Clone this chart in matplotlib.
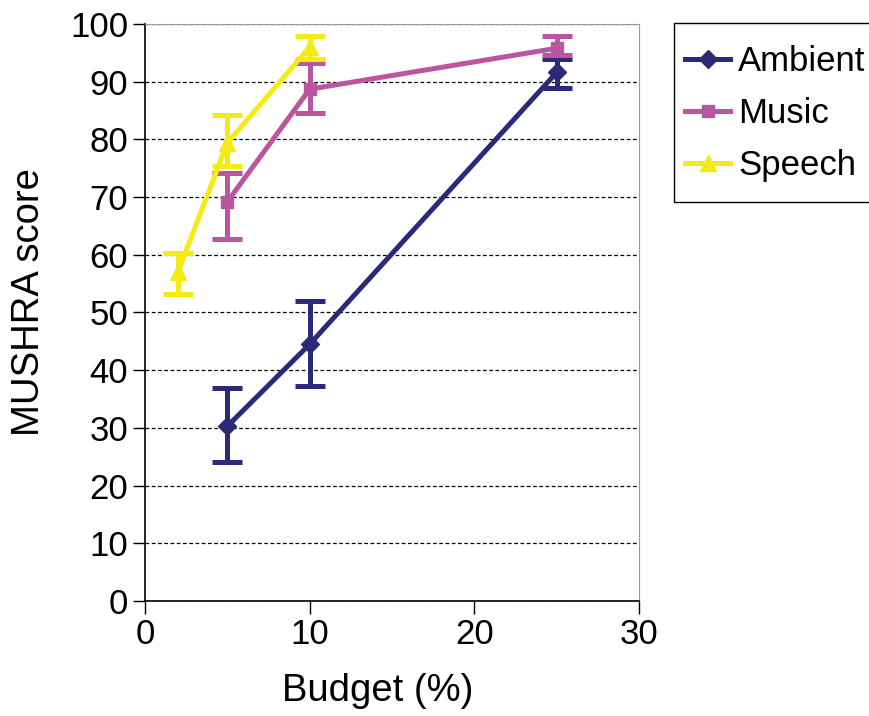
import matplotlib
matplotlib.use("Agg")
import matplotlib.pyplot as plt
from matplotlib.lines import Line2D
from matplotlib.patches import Rectangle

plt.rcParams['font.family'] = ['Liberation Sans', 'DejaVu Sans']

# Budget (%) per category and MUSHRA scores with error ranges
ambient_x = [5, 10, 25]
ambient_y = [30.3, 44.5, 91.6]
ambient_lo = [24.1, 37.3, 88.9]
ambient_hi = [36.9, 52.0, 93.9]

music_x = [5, 10, 25]
music_y = [69.2, 88.7, 95.8]
music_lo = [62.7, 84.6, 94.6]
music_hi = [74.2, 93.2, 98.0]

speech_x = [2, 5, 10]
speech_y = [57.0, 79.4, 96.0]
speech_lo = [53.2, 75.4, 94.0]
speech_hi = [60.3, 84.2, 97.9]

x_ticks = [0, 10, 20, 30]
y_ticks = list(range(0, 101, 10))

W, H = 870, 716
fig = plt.figure(figsize=(W / 100, H / 100), dpi=100)
ax = fig.add_axes([0.1667, 0.1606, 0.5678, 0.8059])

series = [
    ("Ambient", ambient_x, ambient_y, ambient_lo, ambient_hi, "#2a2a78", "D", 9),
    ("Music", music_x, music_y, music_lo, music_hi, "#bb559f", "s", 8),
    ("Speech", speech_x, speech_y, speech_lo, speech_hi, "#f5ea14", "^", 12),
]
handles = []
for name, xs, ys, lo, hi, col, mk, ms in series:
    err = [[y - l for y, l in zip(ys, lo)], [h - y for y, h in zip(ys, hi)]]
    ax.errorbar(xs, ys, yerr=err, color=col, lw=3.6, marker=mk, ms=ms,
                elinewidth=3.6, capsize=11, capthick=3.6, zorder=3)
    handles.append(Line2D([], [], color=col, lw=3.6, marker=mk, ms=ms, label=name))

ax.set_xlim(0, 30)
ax.set_ylim(0, 100)
ax.set_xticks(x_ticks)
ax.set_yticks(y_ticks)
ax.yaxis.grid(True, linestyle=(0, (3, 2)), color="black", lw=0.9)
ax.set_axisbelow(True)
ax.tick_params(axis='both', labelsize=25, length=9, width=1, direction='out', pad=3)
for side in ("top", "right"):
    ax.spines[side].set_color("#999999")
for side in ("left", "bottom"):
    ax.spines[side].set_color("black")
    ax.spines[side].set_linewidth(1.2)

ax.set_xlabel("Budget (%)", fontsize=27.5, labelpad=16)
ax.set_ylabel("MUSHRA score", fontsize=27.5, labelpad=17)
ax.xaxis.label.set_x(0.47)
ax.yaxis.label.set_y(0.518)

# Legend box (open on the right edge) with frameless entries inside
fig.add_artist(Rectangle((674 / W, 1 - 202 / H), 220 / W, 179 / H,
                         transform=fig.transFigure, facecolor="white",
                         edgecolor="black", lw=1.0, clip_on=False))
leg = fig.legend(handles=handles, loc="center left",
                 bbox_to_anchor=(685 / W, 1 - 113.5 / H),
                 fontsize=25, frameon=False,
                 handlelength=1.3, handletextpad=0.23, labelspacing=0.54,
                 borderpad=0, borderaxespad=0)

fig.savefig("out.png", dpi=100)
